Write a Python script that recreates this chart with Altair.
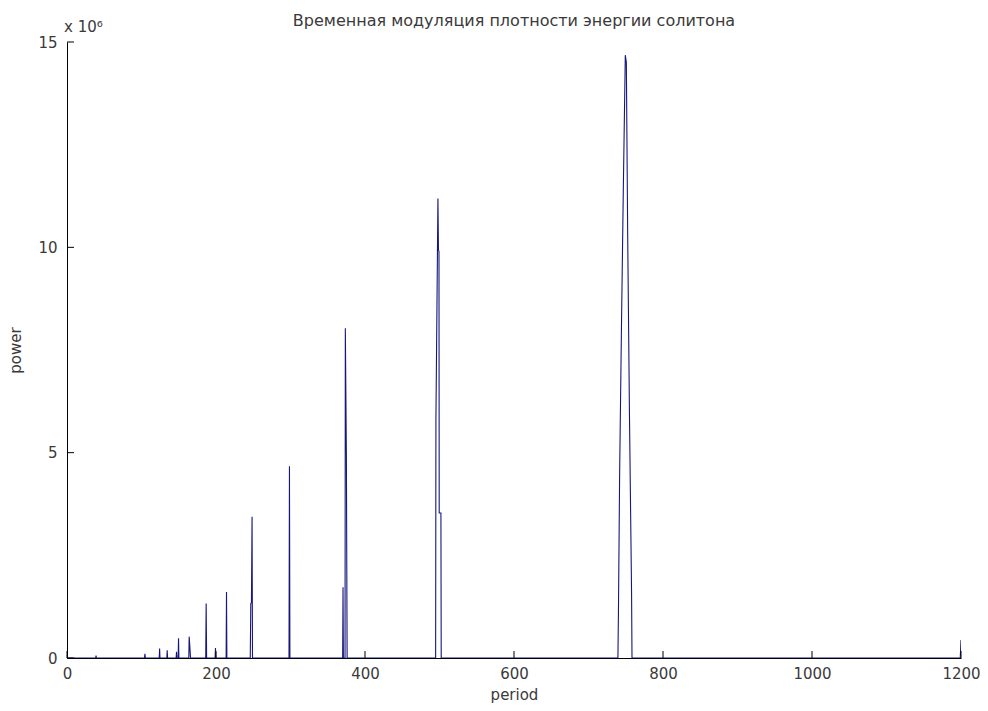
import altair as alt
import pandas as pd

# ---- data (power in units of 1e6) ----
period = [1, 38.5, 39, 39.5, 104, 104.6, 105.2, 123.8, 124.3, 124.8,
          134, 134.5, 135, 146.5, 147, 147.5, 149.2, 149.7, 150.2,
          163.5, 164, 165, 165.8, 186.2, 186.8, 187.4, 198.8, 199.3, 199.8,
          213.6, 214.1, 214.6, 246, 246.7, 247.6, 248.4, 249,
          298, 298.6, 299.2, 370, 370.5, 371, 373.2, 373.6, 375, 376,
          494.8, 495.2, 497.9, 498.6, 499.3, 499.6, 501.9, 502.3,
          739.5, 740.2, 741.8, 744.2, 746.8, 749.4, 750.8, 752.6, 755, 757.8, 758.4,
          1199, 1200]
power = [0, 0, 0.06, 0, 0, 0.1, 0, 0, 0.23, 0,
         0, 0.19, 0, 0, 0.15, 0, 0, 0.48, 0,
         0, 0.52, 0.24, 0, 0, 1.33, 0, 0, 0.24, 0,
         0, 1.61, 0, 0, 1.33, 1.35, 3.44, 0,
         0, 4.67, 0, 0, 1.72, 0, 0, 8.03, 4.94, 0,
         0, 5.8, 11.19, 9.93, 9.9, 3.53, 3.53, 0,
         0, 1.13, 4.5, 8.0, 11.5, 14.68, 14.5, 10.3, 5.9, 1.61, 0,
         0, 0.44]

x_ticks = [0, 200, 400, 600, 800, 1000, 1200]
y_ticks = [0, 5, 10, 15]

title_text = "Временная модуляция плотности энергии солитона"
x_title = "period"
y_title = "power"
exponent_text = "x 10⁶"

W, H = 894, 616
FONT = "DejaVu Sans"
TXT = "#3a3a3a"

df = pd.DataFrame({"period": period, "power": power})
xt = pd.DataFrame({"t": x_ticks})
yt = pd.DataFrame({"t": y_ticks})

xscale = alt.Scale(domain=[0, 1200], nice=False, zero=False)
yscale = alt.Scale(domain=[0, 15], nice=False, zero=False)

line = alt.Chart(df).mark_line(color="#16167e", strokeWidth=1.1, clip=True).encode(
    x=alt.X("period:Q", scale=xscale,
            axis=alt.Axis(values=x_ticks, format="d", ticks=False, grid=False,
                          labelFlush=False, labelPadding=8, title=x_title,
                          titlePadding=6)),
    y=alt.Y("power:Q", scale=yscale,
            axis=alt.Axis(values=y_ticks, format="d", ticks=False, grid=False,
                          labelPadding=10, title=y_title, titlePadding=14)),
)

xtick_layer = alt.Chart(xt).mark_rule(color="black", strokeWidth=1).encode(
    x=alt.X("t:Q", scale=xscale),
    y=alt.value(H), y2=alt.value(H - 7),
)
ytick_layer = alt.Chart(yt).mark_rule(color="black", strokeWidth=1).encode(
    y=alt.Y("t:Q", scale=yscale),
    x=alt.value(0), x2=alt.value(7),
)
expo = alt.Chart(pd.DataFrame({"s": [exponent_text]})).mark_text(
    font=FONT, fontSize=15, color=TXT, align="left", baseline="alphabetic"
).encode(x=alt.value(-3), y=alt.value(-10), text="s:N")

title = alt.Chart(pd.DataFrame({"s": [title_text]})).mark_text(
    font=FONT, fontSize=16, color=TXT, align="center", baseline="alphabetic"
).encode(x=alt.value(W / 2), y=alt.value(-16), text="s:N")

chart = alt.layer(line, xtick_layer, ytick_layer, expo, title).properties(
    width=W, height=H,
    padding={"left": 59, "top": 34, "right": 19, "bottom": 50},
    autosize=alt.AutoSizeParams(type="none"),
).configure_view(stroke=None).configure_axis(
    domainColor="black", domainWidth=1,
    labelFont=FONT, labelFontSize=15, labelColor=TXT,
    titleFont=FONT, titleFontSize=15, titleColor=TXT, titleFontWeight="normal",
)

chart.save("out.html", embed_options={"renderer": "svg", "actions": False})
